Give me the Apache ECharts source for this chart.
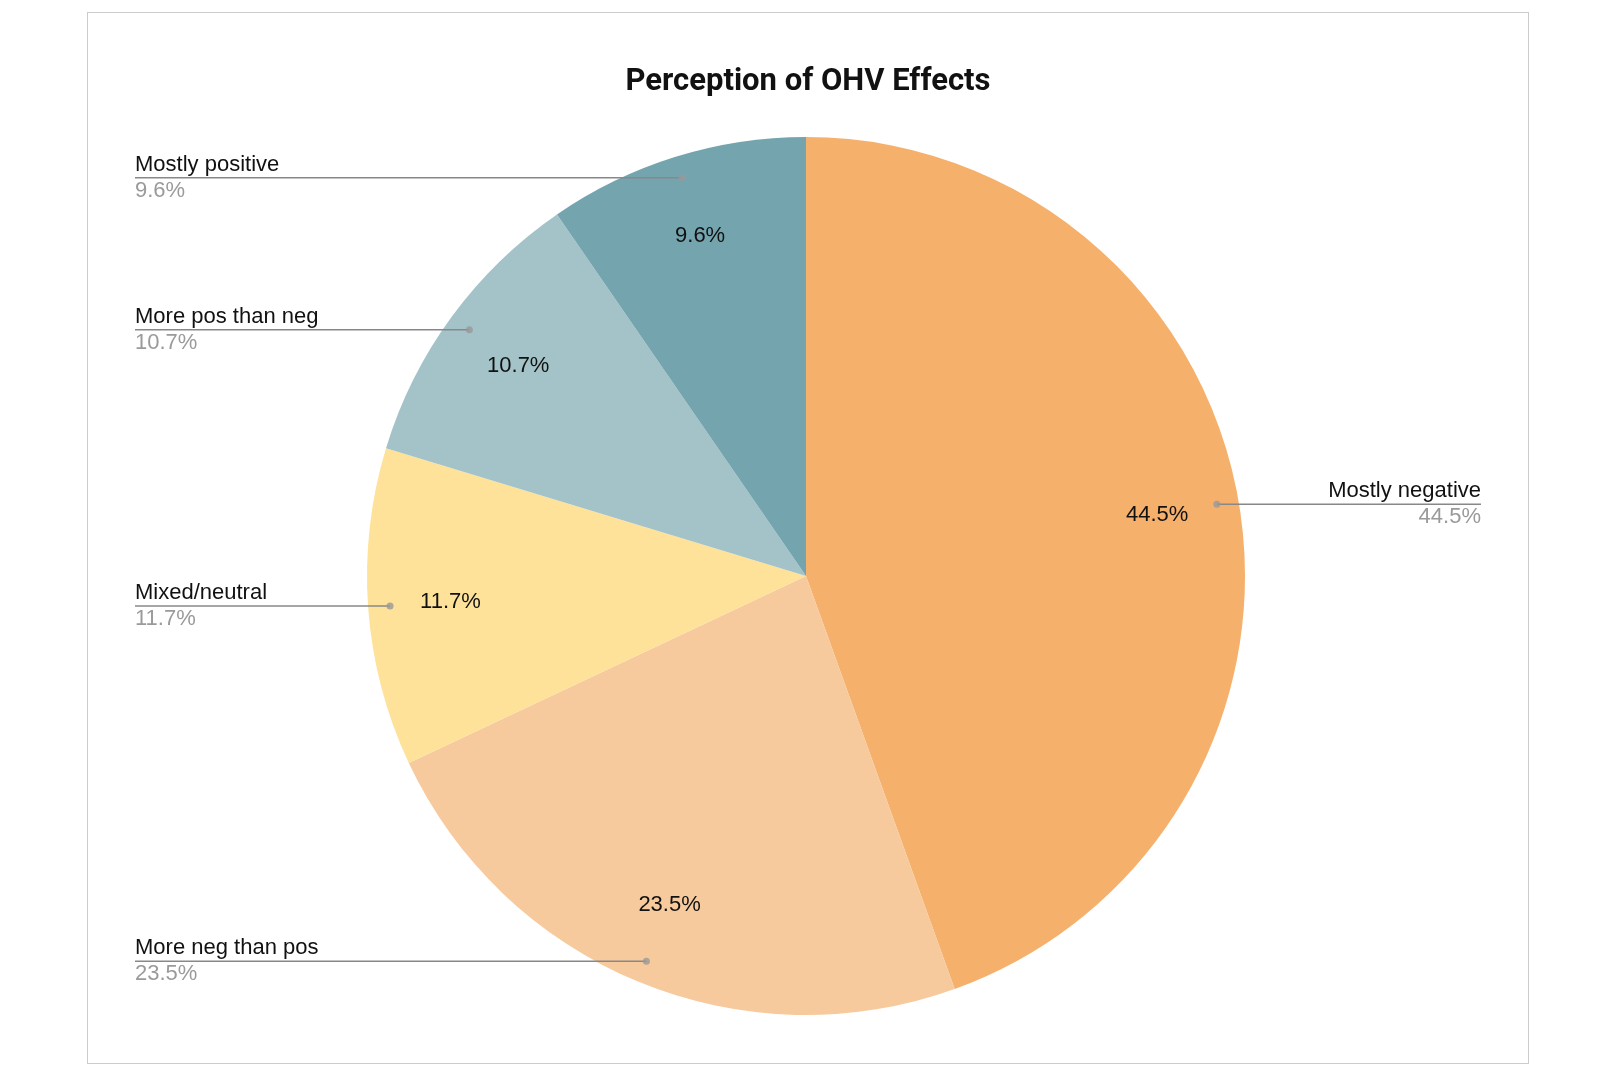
<!DOCTYPE html>
<html>
<head>
<meta charset="utf-8">
<title>Perception of OHV Effects</title>
<script src="https://cdn.jsdelivr.net/npm/echarts@6/dist/echarts.min.js"></script>
<style>
  html, body { margin: 0; padding: 0; background: #fff; }
  #chart {
    position: absolute;
    left: 87px;
    top: 12px;
    width: 1440px;
    height: 1050px;
    border: 1px solid #cccccc;
  }
</style>
</head>
<body>
<div id="chart"></div>
<script>
// data
const categories = ['Mostly negative', 'More neg than pos', 'Mixed/neutral', 'More pos than neg', 'Mostly positive']
const shares = [44.5, 23.5, 11.7, 10.7, 9.6]
const colors = ['#F5B06B', '#F7CA9D', '#FEE29A', '#A3C3C8', '#74A5AF']

const chartTitle = 'Perception of OHV Effects'
const pieCenter = [718, 563]
const pieRadius = 439

const pieData = categories.map((name, i) => ({
  name: name,
  value: shares[i],
  itemStyle: { color: colors[i] }
}))

// dots where the label lines start: middle angle of each slice
const total = shares.reduce((a, b) => a + b, 0)
let acc = 0
const dotData = shares.map(v => {
  const mid = acc + v / 2
  acc += v
  return [0.95, mid]
})

const chart = echarts.init(document.getElementById('chart'))

const option = {
  animation: false,
  title: {
    text: chartTitle,
    left: 'center',
    top: 49,
    textStyle: {
      fontFamily: 'Roboto',
      fontWeight: 'bold',
      fontSize: 31,
      color: '#111'
    }
  },
  polar: {
    center: pieCenter,
    radius: pieRadius
  },
  angleAxis: {
    type: 'value',
    min: 0,
    max: total,
    startAngle: 90,
    clockwise: true,
    show: false
  },
  radiusAxis: {
    type: 'value',
    min: 0,
    max: 1,
    show: false
  },
  series: [
    {
      // the visible pie
      type: 'pie',
      center: pieCenter,
      radius: pieRadius,
      startAngle: 90,
      clockwise: true,
      silent: true,
      z: 1,
      label: { show: false },
      labelLine: { show: false },
      data: pieData
    },
    {
      // percentages inside the slices
      type: 'pie',
      center: pieCenter,
      radius: [268, pieRadius],
      startAngle: 90,
      silent: true,
      z: 3,
      itemStyle: { color: 'transparent' },
      label: {
        show: true,
        position: 'inside',
        fontFamily: 'Liberation Sans',
        fontSize: 22,
        color: '#111',
        formatter: p => p.value.toFixed(1) + '%'
      },
      labelLine: { show: false },
      data: categories.map((name, i) => ({ name: name, value: shares[i] }))
    },
    {
      // outside labels aligned to the edges
      type: 'pie',
      center: pieCenter,
      radius: pieRadius * 0.95,
      startAngle: 90,
      silent: true,
      z: 5,
      itemStyle: { color: 'transparent' },
      label: {
        show: true,
        position: 'outside',
        alignTo: 'edge',
        edgeDistance: 47,
        lineHeight: 26,
        formatter: p => '{name|' + p.name + '}\n{pct|' + p.value.toFixed(1) + '%}',
        rich: {
          name: {
            fontFamily: 'Liberation Sans',
            fontSize: 22,
            color: '#111',
            lineHeight: 26
          },
          pct: {
            fontFamily: 'Liberation Sans',
            fontSize: 22,
            color: '#9a9a9a',
            lineHeight: 26
          }
        }
      },
      labelLine: {
        show: true,
        showAbove: true,
        length: 0,
        length2: 10,
        smooth: false,
        lineStyle: { color: '#888', width: 1.5 }
      },
      labelLayout: function (params) {
        const isLeft = params.labelRect.x < chart.getWidth() / 2
        const points = params.labelLinePoints
        points[2][0] = isLeft ? params.labelRect.x : params.labelRect.x + params.labelRect.width
        return { labelLinePoints: points }
      },
      data: categories.map((name, i) => ({ name: name, value: shares[i] }))
    },
    {
      type: 'scatter',
      coordinateSystem: 'polar',
      symbol: 'circle',
      symbolSize: 7,
      silent: true,
      z: 10,
      itemStyle: { color: '#999' },
      data: dotData
    }
  ]
}

chart.setOption(option)
</script>
</body>
</html>
